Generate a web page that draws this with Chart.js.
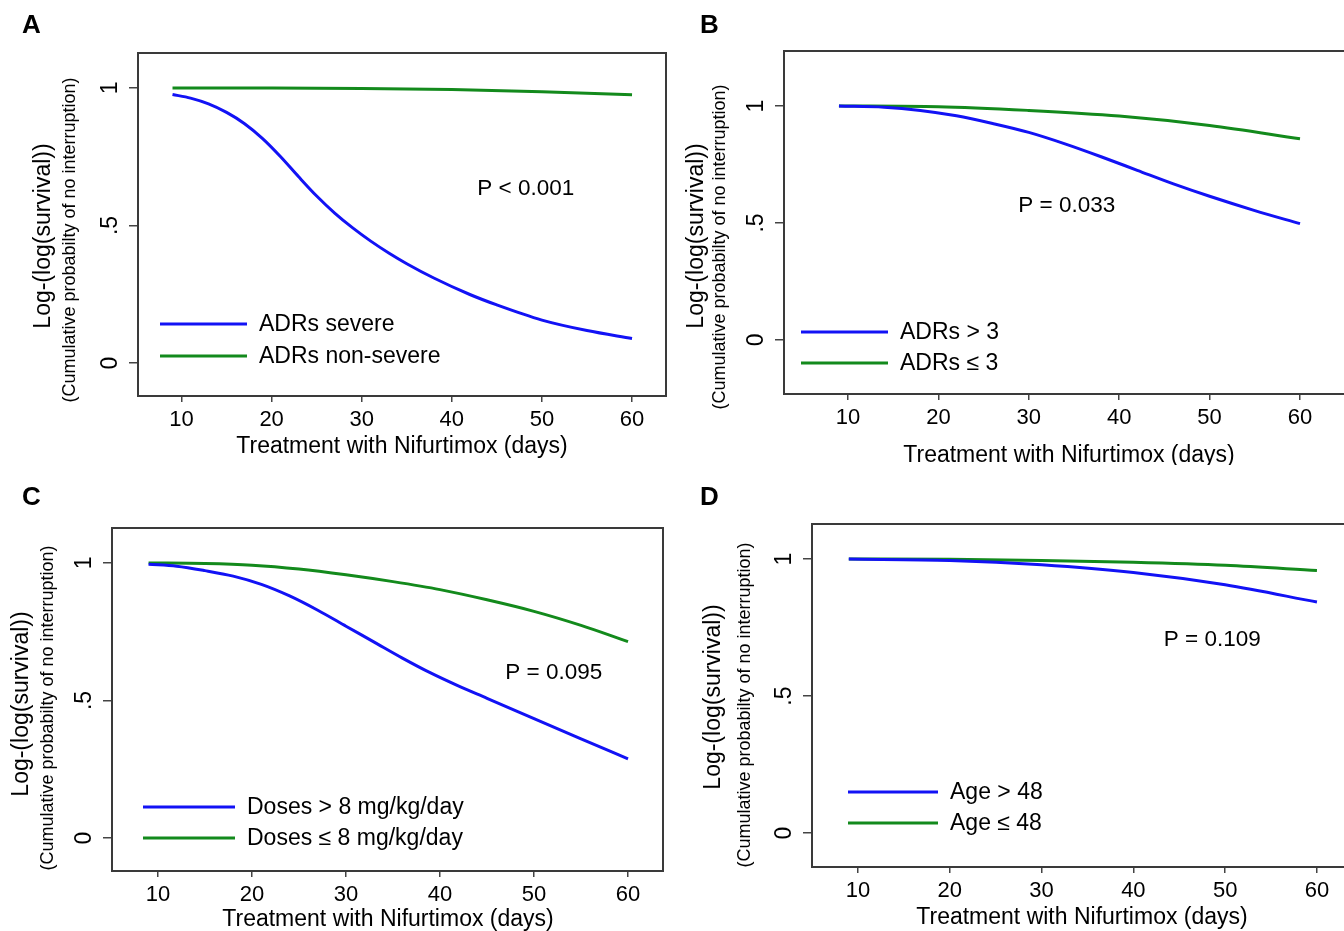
<!DOCTYPE html>
<html>
<head>
<meta charset="utf-8">
<title>Log-(log(survival)) by Nifurtimox treatment</title>
<script src="https://cdn.jsdelivr.net/npm/chart.js@4.4.1/dist/chart.umd.min.js"></script>
<style>
  html, body { margin: 0; padding: 0; background: #fff; overflow: hidden; }
  #page { position: relative; width: 1344px; height: 931px; overflow: hidden; }
  canvas { position: absolute; }
</style>
</head>
<body>
<div id="page">
  <canvas id="panelA" width="672" height="465" style="left:0;top:0;width:672px;height:465px"></canvas>
  <canvas id="panelB" width="690" height="465" style="left:672px;top:0;width:690px;height:465px"></canvas>
  <canvas id="panelC" width="672" height="466" style="left:0;top:465px;width:672px;height:466px"></canvas>
  <canvas id="panelD" width="690" height="466" style="left:672px;top:465px;width:690px;height:466px"></canvas>
</div>
<script>
// ------------------------------------------------------- //
// Data
// ------------------------------------------------------ //
var xTicks = [10, 20, 30, 40, 50, 60];
var yTicks = [0, 0.5, 1];
var yTickLabels = ['0', '.5', '1'];

var yTitle = 'Log-(log(survival))';
var ySubTitle = '(Cumulative probabilty of no interruption)';
var xTitle = 'Treatment with Nifurtimox (days)';

// A - ADRs severity
var daysSevere = [9, 11, 13, 15, 17, 19, 21, 23, 25, 27, 29, 31, 33, 35, 38, 42, 45, 50, 55, 60];
var adrSevere = [0.976, 0.963, 0.942, 0.911, 0.870, 0.816, 0.750, 0.677, 0.607, 0.545, 0.491, 0.443, 0.400, 0.361, 0.309, 0.249, 0.211, 0.156, 0.118, 0.089];
var daysNonSevere = [9, 20, 30, 40, 50, 60];
var adrNonSevere = [1.0, 1.0, 0.998, 0.994, 0.986, 0.975];

// B - number of ADRs
var daysAdrMore = [9, 14, 18, 22, 26, 30, 34, 38, 42, 46, 50, 55, 60];
var adrMore3 = [1.0, 0.995, 0.981, 0.958, 0.925, 0.887, 0.838, 0.783, 0.725, 0.667, 0.614, 0.553, 0.497];
var daysAdrLess = [9, 20, 30, 40, 50, 60];
var adrLess3 = [1.0, 0.997, 0.981, 0.957, 0.917, 0.860];

// C - doses
var daysDoseHigh = [9, 12, 15, 18, 21, 24, 27, 30, 33, 36, 39, 42, 45, 50, 55, 60];
var doseHigh = [0.995, 0.988, 0.972, 0.952, 0.922, 0.880, 0.828, 0.770, 0.712, 0.654, 0.600, 0.552, 0.508, 0.434, 0.360, 0.288];
var daysDoseLow = [9, 15, 20, 25, 30, 35, 40, 45, 50, 55, 60];
var doseLow = [1.0, 0.998, 0.992, 0.978, 0.957, 0.932, 0.903, 0.866, 0.824, 0.773, 0.714];

// D - age
var daysAge = [9, 20, 30, 40, 50, 60];
var ageHigh = [1.0, 0.995, 0.979, 0.951, 0.906, 0.843];
var ageLow = [1.0, 0.999, 0.995, 0.988, 0.977, 0.958];

var BLUE = '#1212f5';
var GREEN = '#138a1c';
var FONT = '"Liberation Sans", Arial, Helvetica, sans-serif';

// ------------------------------------------------------- //
// Box, letters, axis titles, legend and P value
// ------------------------------------------------------ //
var panelDecor = {
    id: 'panelDecor',
    afterDraw: function (chart, args, opts) {
        var ctx = chart.ctx;
        var area = chart.chartArea;
        var xs = chart.scales.x, ys = chart.scales.y;

        ctx.save();
        ctx.strokeStyle = '#3a3a3a';
        ctx.lineWidth = 2;
        ctx.strokeRect(area.left, area.top, area.right - area.left, area.bottom - area.top);

        ctx.fillStyle = '#000';
        ctx.font = 'bold 26px ' + FONT;
        ctx.textAlign = 'left';
        ctx.textBaseline = 'alphabetic';
        ctx.fillText(opts.letter, opts.letterPos[0], opts.letterPos[1]);

        // y titles, rotated
        ctx.textAlign = 'center';
        ctx.textBaseline = 'middle';
        ctx.save();
        ctx.translate(opts.yTitlePos[0], opts.yTitlePos[1]);
        ctx.rotate(-Math.PI / 2);
        ctx.font = '23px ' + FONT;
        ctx.fillText(yTitle, 0, 0);
        ctx.restore();
        ctx.save();
        ctx.translate(opts.ySubPos[0], opts.ySubPos[1]);
        ctx.rotate(-Math.PI / 2);
        ctx.font = '18px ' + FONT;
        ctx.fillText(ySubTitle, 0, 0);
        ctx.restore();

        ctx.font = '23px ' + FONT;
        ctx.fillText(xTitle, opts.xTitlePos[0], opts.xTitlePos[1]);

        // legend inside the box
        ctx.font = '23px ' + FONT;
        ctx.textAlign = 'left';
        chart.data.datasets.forEach(function (ds, i) {
            var y = opts.legend.y[i];
            ctx.strokeStyle = ds.borderColor;
            ctx.lineWidth = 3;
            ctx.beginPath();
            ctx.moveTo(opts.legend.x, y);
            ctx.lineTo(opts.legend.x + opts.legend.len, y);
            ctx.stroke();
            ctx.fillText(ds.label, opts.legend.x + opts.legend.len + 12, y + 1);
        });

        ctx.font = '22.5px ' + FONT;
        ctx.textAlign = 'center';
        ctx.fillText(opts.pText, xs.getPixelForValue(opts.pAt[0]), ys.getPixelForValue(opts.pAt[1]));
        ctx.restore();
    }
};

function pts(days, vals) {
    return days.map(function (d, i) { return { x: d, y: vals[i] }; });
}

function makePanel(id, p) {
    var canvas = document.getElementById(id);
    var W = canvas.width, H = canvas.height;
    return new Chart(canvas.getContext('2d'), {
        type: 'line',
        data: {
            datasets: p.series.map(function (s) {
                return {
                    label: s.label,
                    data: pts(s.days, s.values),
                    borderColor: s.color,
                    borderWidth: 3,
                    pointRadius: 0,
                    fill: false,
                    cubicInterpolationMode: 'monotone'
                };
            })
        },
        options: {
            responsive: false,
            animation: false,
            events: [],
            layout: { padding: { top: p.area.top, right: W - p.area.right, left: 0, bottom: 0 } },
            plugins: {
                legend: { display: false },
                tooltip: { enabled: false },
                panelDecor: p.decor
            },
            scales: {
                x: {
                    type: 'linear',
                    min: p.xRange[0],
                    max: p.xRange[1],
                    afterBuildTicks: function (s) { s.ticks = xTicks.map(function (v) { return { value: v }; }); },
                    afterFit: function (s) { s.height = H - p.area.bottom; },
                    grid: { display: true, drawOnChartArea: false, drawTicks: true, tickLength: 6, color: '#444', lineWidth: 1.5 },
                    border: { display: true, color: '#3a3a3a', width: 2 },
                    ticks: { color: '#000', font: { family: FONT, size: 22 }, padding: 5, minRotation: 0, maxRotation: 0, autoSkip: false }
                },
                y: {
                    type: 'linear',
                    min: p.yRange[0],
                    max: p.yRange[1],
                    afterBuildTicks: function (s) { s.ticks = yTicks.map(function (v) { return { value: v }; }); },
                    afterFit: function (s) { s.width = p.area.left; },
                    grid: { display: true, drawOnChartArea: false, drawTicks: true, tickLength: 9, color: '#444', lineWidth: 1.5 },
                    border: { display: true, color: '#3a3a3a', width: 2 },
                    ticks: {
                        color: '#000', font: { family: FONT, size: 23 }, padding: 9,
                        minRotation: 90, maxRotation: 90, crossAlign: 'center', autoSkip: false,
                        callback: function (v) { return yTickLabels[yTicks.indexOf(v)]; }
                    }
                }
            }
        },
        plugins: [panelDecor]
    });
}

// ------------------------------------------------------- //
// Panels
// ------------------------------------------------------ //
makePanel('panelA', {
    area: { left: 138, top: 53, right: 666, bottom: 396 },
    xRange: [5.17, 63.77], yRange: [-0.12, 1.127],
    series: [
        { label: 'ADRs severe', days: daysSevere, values: adrSevere, color: BLUE },
        { label: 'ADRs non-severe', days: daysNonSevere, values: adrNonSevere, color: GREEN }
    ],
    decor: {
        letter: 'A', letterPos: [22, 33],
        yTitlePos: [44, 236], ySubPos: [70, 240], xTitlePos: [402, 447],
        legend: { x: 160, len: 87, y: [324, 356] },
        pText: 'P < 0.001', pAt: [48.2, 0.635]
    }
});

makePanel('panelB', {
    area: { left: 112, top: 51, right: 678, bottom: 394 },
    xRange: [2.92, 65.53], yRange: [-0.231, 1.235],
    series: [
        { label: 'ADRs > 3', days: daysAdrMore, values: adrMore3, color: BLUE },
        { label: 'ADRs \u2264 3', days: daysAdrLess, values: adrLess3, color: GREEN }
    ],
    decor: {
        letter: 'B', letterPos: [28, 33],
        yTitlePos: [25, 236], ySubPos: [48, 247], xTitlePos: [397, 456],
        legend: { x: 129, len: 87, y: [332, 363] },
        pText: 'P = 0.033', pAt: [34.2, 0.574]
    }
});

makePanel('panelC', {
    area: { left: 112, top: 63, right: 663, bottom: 406 },
    xRange: [5.11, 63.72], yRange: [-0.12, 1.127],
    series: [
        { label: 'Doses > 8 mg/kg/day', days: daysDoseHigh, values: doseHigh, color: BLUE },
        { label: 'Doses \u2264 8 mg/kg/day', days: daysDoseLow, values: doseLow, color: GREEN }
    ],
    decor: {
        letter: 'C', letterPos: [22, 40],
        yTitlePos: [22, 239], ySubPos: [48, 243], xTitlePos: [388, 455],
        legend: { x: 143, len: 92, y: [342, 373] },
        pText: 'P = 0.095', pAt: [52.1, 0.599]
    }
});

makePanel('panelD', {
    area: { left: 140, top: 59, right: 678, bottom: 402 },
    xRange: [4.99, 63.6], yRange: [-0.124, 1.128],
    series: [
        { label: 'Age > 48', days: daysAge, values: ageHigh, color: BLUE },
        { label: 'Age \u2264 48', days: daysAge, values: ageLow, color: GREEN }
    ],
    decor: {
        letter: 'D', letterPos: [28, 40],
        yTitlePos: [42, 232], ySubPos: [73, 240], xTitlePos: [410, 453],
        legend: { x: 176, len: 90, y: [327, 358] },
        pText: 'P = 0.109', pAt: [48.6, 0.704]
    }
});
</script>
</body>
</html>
